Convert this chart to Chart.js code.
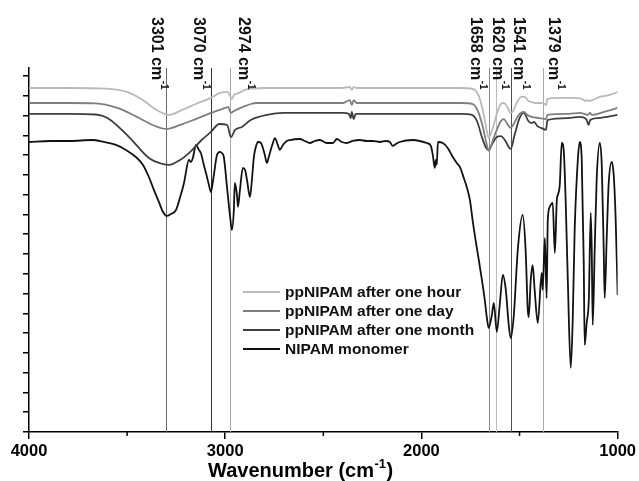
<!DOCTYPE html>
<html>
<head>
<meta charset="utf-8">
<style>html,body{margin:0;padding:0;background:#fff;}canvas{display:block;}</style>
<script src="https://cdn.jsdelivr.net/npm/chart.js@4/dist/chart.umd.min.js"></script>
</head>
<body>
<canvas id="c" width="639" height="481"></canvas>
<script>
// ---------- DATA ----------
const seriesNames = ['ppNIPAM after one hour', 'ppNIPAM after one day', 'ppNIPAM after one month', 'NIPAM monomer'];

const hourWave = [4000,3800,3608,3500,3420,3350,3287,3220,3150,3073,3027,2990,2975,2966,2955,2930,2900,2859,2800,2400,2365,2355,2345,2330,1800,1740,1710,1690,1677,1665,1657,1645,1630,1616,1595,1580,1565,1545,1530,1510,1490,1473,1455,1438,1420,1400,1370,1365,1358,1300,1229,1180,1165,1155,1145,1091,1040,1000];
const hourT = [173.9,173.9,173.6,171.9,167.8,162.8,160.3,162.8,165.8,168.9,171.4,171.9,169.9,168.3,170.4,171.4,172.9,173.6,173.9,173.9,174.4,172.9,174.4,173.9,173.9,173.4,170.4,163.8,157.7,151.2,148.6,151.2,155.7,160.8,165.8,166.3,164.8,161.3,162.8,167.3,169.4,169.4,167.3,166.8,166.3,166.3,165.8,165.3,168.3,168.9,168.9,168.3,167.3,167.8,167.3,169.4,170.4,171.9];

const dayWave = [4000,3800,3659,3550,3450,3370,3302,3230,3150,3073,3000,2985,2971,2955,2910,2870,2839,2800,2400,2365,2355,2345,2330,1800,1738,1715,1687,1670,1657,1645,1630,1616,1595,1580,1565,1545,1530,1500,1478,1460,1438,1400,1365,1358,1250,1193,1150,1142,1130,1070,1000];
const dayT = [166.3,166.3,166.1,163.8,159.3,155.2,153.2,155.2,158.2,161.3,163.8,164.3,161.3,162.3,164.3,165.8,166.3,166.3,166.3,167.8,165.3,167.8,166.3,166.3,165.8,162.8,154.2,146.6,142.1,144.6,149.1,152.7,157.2,158.2,156.2,153.7,155.7,160.8,161.8,160.3,159.3,158.7,158.2,160.3,160.8,161.3,160.3,161.3,160.3,161.8,163.8];

const monthWave = [4000,3800,3659,3600,3490,3389,3320,3287,3230,3185,3120,3073,3030,2990,2971,2950,2915,2870,2788,2700,2400,2370,2360,2355,2345,2335,1800,1743,1715,1692,1670,1657,1640,1616,1595,1575,1545,1525,1500,1478,1455,1440,1425,1410,1390,1365,1358,1250,1193,1160,1148,1140,1100,1000];
const monthT = [160.8,160.8,160.5,158.7,149.1,138.5,135.5,135.0,137.5,141.0,147.6,151.7,155.7,155.2,149.1,152.7,154.2,157.7,160.3,161.3,161.3,160.8,158.7,161.8,158.2,160.8,160.8,160.3,156.7,149.1,143.6,142.6,145.6,149.1,149.6,147.6,143.1,150.2,158.7,161.3,157.2,156.2,156.7,154.7,153.7,152.7,157.7,158.7,159.3,158.2,155.2,157.7,158.7,160.3];

const monomerWave = [4000,3893,3791,3679,3618,3557,3506,3455,3419,3389,3363,3338,3317,3297,3277,3251,3231,3210,3185,3175,3165,3149,3134,3124,3109,3098,3083,3073,3058,3042,3027,3017,3007,2991,2976,2966,2956,2951,2940,2935,2925,2910,2899,2889,2874,2864,2854,2844,2833,2818,2808,2798,2788,2778,2768,2757,2747,2732,2722,2706,2686,2671,2620,2594,2569,2543,2518,2482,2451,2431,2406,2380,2350,2314,2278,2248,2212,2181,2161,2146,2130,2111,2044,2008,1973,1952,1942,1932,1927,1922,1916,1891,1866,1840,1820,1804,1784,1769,1753,1738,1720,1702,1677,1667,1657,1641,1631,1616,1601,1585,1570,1555,1545,1529,1509,1484,1469,1458,1453,1443,1433,1423,1407,1387,1382,1371,1362,1356,1346,1331,1320,1310,1305,1295,1285,1275,1265,1254,1239,1229,1219,1203,1193,1183,1173,1168,1158,1147,1137,1132,1127,1117,1107,1091,1081,1071,1066,1056,1046,1030,1020,1010,1000];
const monomerT = [146.6,147.1,147.1,147.6,146.6,145.1,142.6,139.0,135.0,128.9,122.3,116.3,111.2,109.2,110.2,112.2,118.3,125.9,137.5,136.5,138.5,145.1,142.6,141.0,135.0,130.9,124.9,121.3,129.9,140.0,141.6,141.0,139.0,123.9,109.7,102.1,112.2,125.9,119.8,113.8,122.3,133.5,132.5,127.4,118.8,127.4,139.0,144.1,146.6,146.1,143.6,140.0,136.0,139.0,142.6,146.1,148.6,145.1,142.6,145.1,147.1,147.6,148.1,147.1,146.1,147.1,147.6,146.1,146.1,148.1,146.6,146.1,147.1,147.6,147.1,147.1,146.6,147.1,146.6,144.6,145.6,146.6,147.6,147.1,146.1,144.6,140.0,133.5,137.5,135.0,146.6,146.1,143.6,139.0,136.0,134.0,128.4,123.9,117.3,106.2,94.5,83.4,66.7,58.1,52.6,59.2,65.2,50.6,64.2,79.4,71.8,54.1,47.5,59.2,92.0,109.7,92.0,61.7,58.1,76.8,84.4,71.8,55.1,80.4,71.8,98.1,67.7,107.2,113.8,115.8,90.5,117.3,119.8,124.9,146.1,142.6,117.3,76.8,32.4,56.6,102.1,137.5,146.6,137.5,87.0,44.0,55.1,66.7,110.7,92.0,54.1,92.0,127.4,146.1,135.0,92.0,67.7,97.1,124.9,136.5,129.9,107.2,69.3];

const peakWaves = [3301, 3070, 2974, 1658, 1620, 1541, 1379];
const xTickValues = [4000, 3000, 2000, 1000];
const xMinorTicks = [3500, 2500, 1500];
const xTitle = 'Wavenumber (cm';

// ---------- STYLE ----------
const FONT = '"Liberation Sans", Arial, Helvetica, sans-serif';
const seriesColors = ['#bababa', '#7e7e7e', '#3e3e3e', '#121212'];
const peakColors = ['#6a6a6a', '#333333', '#a8a8a8', '#8a8a8a', '#bdbdbd', '#505050', '#ababab'];
const peakTextDx = [-14, -17, 9, -18, -3, 3, 6];

const toPts = (w, t) => w.map((v, i) => ({x: v, y: t[i]}));
const seriesData = [toPts(hourWave, hourT), toPts(dayWave, dayT), toPts(monthWave, monthT), toPts(monomerWave, monomerT)];

const overlay = {
  id: 'overlay',
  beforeDatasetsDraw(chart) {
    const {ctx, chartArea: a, scales: {x}} = chart;
    ctx.save();
    peakWaves.forEach((w, i) => {
      const px = Math.round(x.getPixelForValue(w)) + 0.5;
      ctx.strokeStyle = peakColors[i];
      ctx.lineWidth = 1;
      ctx.beginPath(); ctx.moveTo(px, a.top); ctx.lineTo(px, a.bottom); ctx.stroke();
    });
    ctx.restore();
  },
  afterDraw(chart) {
    const {ctx, chartArea: a, scales: {x}} = chart;
    ctx.save();
    // minor x ticks
    ctx.strokeStyle = '#000'; ctx.lineWidth = 1.5;
    xMinorTicks.forEach(w => {
      const px = x.getPixelForValue(w);
      ctx.beginPath(); ctx.moveTo(px, a.bottom); ctx.lineTo(px, a.bottom + 4); ctx.stroke();
    });
    // peak labels
    peakWaves.forEach((w, i) => {
      const px = x.getPixelForValue(w) + peakTextDx[i];
      ctx.save();
      ctx.translate(px, 17);
      ctx.rotate(Math.PI / 2);
      ctx.fillStyle = '#111';
      ctx.textAlign = 'left'; ctx.textBaseline = 'alphabetic';
      ctx.font = 'bold 16px ' + FONT;
      const main = w + ' cm';
      ctx.fillText(main, 0, 0);
      const mw = ctx.measureText(main).width;
      ctx.font = 'bold 10px ' + FONT;
      ctx.fillText('-1', mw + 0.5, -9);
      ctx.restore();
    });
    // axis title
    ctx.fillStyle = '#000';
    ctx.textAlign = 'left'; ctx.textBaseline = 'alphabetic';
    ctx.font = 'bold 20px ' + FONT;
    let tx = 208;
    ctx.fillText(xTitle, tx, 476.5);
    tx += ctx.measureText(xTitle).width;
    ctx.font = 'bold 13px ' + FONT;
    ctx.fillText('-1', tx + 0.5, 468);
    tx += ctx.measureText('-1').width + 1;
    ctx.font = 'bold 20px ' + FONT;
    ctx.fillText(')', tx, 476.5);
    // legend
    ctx.textBaseline = 'middle';
    chart.data.datasets.forEach((ds, i) => {
      const y = 292 + i * 19;
      ctx.strokeStyle = ds.borderColor; ctx.lineWidth = 1.8;
      ctx.beginPath(); ctx.moveTo(243, y); ctx.lineTo(280, y); ctx.stroke();
      ctx.fillStyle = '#111';
      ctx.font = 'bold 15.5px ' + FONT;
      ctx.fillText(ds.label, 285, y + 0.5);
    });
    ctx.restore();
  }
};

new Chart(document.getElementById('c'), {
  type: 'line',
  data: {
    datasets: seriesNames.map((n, i) => ({
      label: n,
      data: seriesData[i],
      borderColor: seriesColors[i],
      backgroundColor: seriesColors[i],
      borderWidth: 1.8,
      pointRadius: 0,
      fill: false,
      cubicInterpolationMode: 'monotone'
    }))
  },
  options: {
    responsive: false,
    animation: false,
    devicePixelRatio: 1,
    layout: {padding: {top: 68, right: 21, left: 0, bottom: 0}},
    plugins: {legend: {display: false}, tooltip: {enabled: false}},
    scales: {
      x: {
        type: 'linear', reverse: true, min: 1000, max: 4000,
        afterFit: s => { s.height = 49; },
        afterBuildTicks: s => { s.ticks = xTickValues.map(v => ({value: v})); },
        ticks: {
          color: '#000', padding: 3, maxRotation: 0, autoSkip: false,
          font: {family: FONT, size: 16.5, weight: 'bold'},
          callback: v => String(v)
        },
        grid: {drawOnChartArea: false, drawTicks: true, tickLength: 7, color: '#000', lineWidth: 1.5},
        border: {display: true, color: '#000', width: 1.5},
        title: {display: false}
      },
      y: {
        type: 'linear', min: 0, max: 184,
        afterFit: s => { s.width = 29; },
        ticks: {display: false, stepSize: 10, includeBounds: false},
        grid: {drawOnChartArea: false, drawTicks: true, tickLength: 6, color: '#000', lineWidth: 1.5},
        border: {display: true, color: '#000', width: 1.5}
      }
    }
  },
  plugins: [overlay]
});
</script>
</body>
</html>
